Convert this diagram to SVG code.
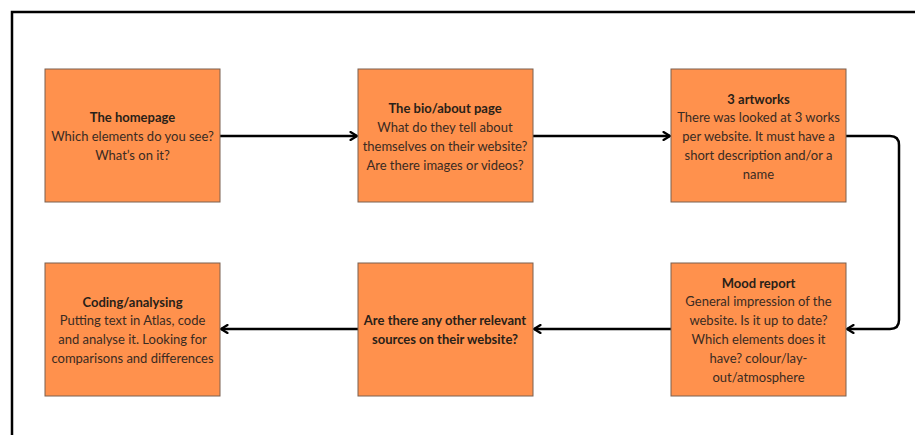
<svg xmlns="http://www.w3.org/2000/svg" width="915" height="435" viewBox="0 0 915 435">
<defs>
<marker id="arr" viewBox="0 0 10 10" refX="8.5" refY="5" markerWidth="10" markerHeight="10" markerUnits="userSpaceOnUse" orient="auto">
<path d="M2,1 L8.5,5 L2,9" fill="none" stroke="#000" stroke-width="2.2" stroke-linecap="round" stroke-linejoin="round"/>
</marker>
<style>
.box{fill:#FF914D;stroke:#7a6050;stroke-width:1}
.t{font-family:Lato,"Liberation Sans",sans-serif;font-size:13px;fill:#3a2b22;text-anchor:middle}
.b{font-weight:bold;fill:#2a1f18}
.c{fill:none;stroke:#000;stroke-width:2.5;marker-end:url(#arr)}
</style>
</defs>
<rect width="915" height="435" fill="#fff"/>
<path d="M12,440 V12 H920" fill="none" stroke="#000" stroke-width="2.5"/>
<g id="connectors">
<path class="c" d="M220,136 H357"/>
<path class="c" d="M533,136 H670"/>
<path class="c" d="M846,136 H890 Q899,136 899,145 V320 Q899,329 890,329 H847"/>
<path class="c" d="M671,329 H534"/>
<path class="c" d="M358,329 H221"/>
</g>
<g id="n1">
<rect class="box" x="45" y="69" width="175" height="133"/>
<text class="t b" x="132.5" y="122">The homepage</text>
<text class="t" x="132.5" y="140.5">Which elements do you see?</text>
<text class="t" x="132.5" y="159.5">What’s on it?</text>
</g>
<g id="n2">
<rect class="box" x="358" y="69" width="175" height="133"/>
<text class="t b" x="445" y="113">The bio/about page</text>
<text class="t" x="445" y="131.5">What do they tell about</text>
<text class="t" x="445" y="150.5">themselves on their website?</text>
<text class="t" x="445" y="169.5">Are there images or videos?</text>
</g>
<g id="n3">
<rect class="box" x="671" y="69" width="175" height="133"/>
<text class="t b" x="758.5" y="103.5">3 artworks</text>
<text class="t" x="758.5" y="122">There was looked at 3 works</text>
<text class="t" x="758.5" y="141">per website. It must have a</text>
<text class="t" x="758.5" y="160">short description and/or a</text>
<text class="t" x="758.5" y="179">name</text>
</g>
<g id="n4">
<rect class="box" x="45" y="263" width="175" height="133"/>
<text class="t b" x="132.5" y="306.5">Coding/analysing</text>
<text class="t" x="132.5" y="325">Putting text in Atlas, code</text>
<text class="t" x="132.5" y="344">and analyse it. Looking for</text>
<text class="t" x="132.5" y="362.5">comparisons and differences</text>
</g>
<g id="n5">
<rect class="box" x="358" y="263" width="175" height="133"/>
<text class="t b" x="445" y="324.5">Are there any other relevant</text>
<text class="t b" x="445" y="343.5">sources on their website?</text>
</g>
<g id="n6">
<rect class="box" x="671" y="263" width="175" height="133"/>
<text class="t b" x="758.5" y="287.5">Mood report</text>
<text class="t" x="758.5" y="306">General impression of the</text>
<text class="t" x="758.5" y="325">website. Is it up to date?</text>
<text class="t" x="758.5" y="344">Which elements does it</text>
<text class="t" x="758.5" y="362.5">have? colour/lay-</text>
<text class="t" x="758.5" y="381.5">out/atmosphere</text>
</g>
</svg>
